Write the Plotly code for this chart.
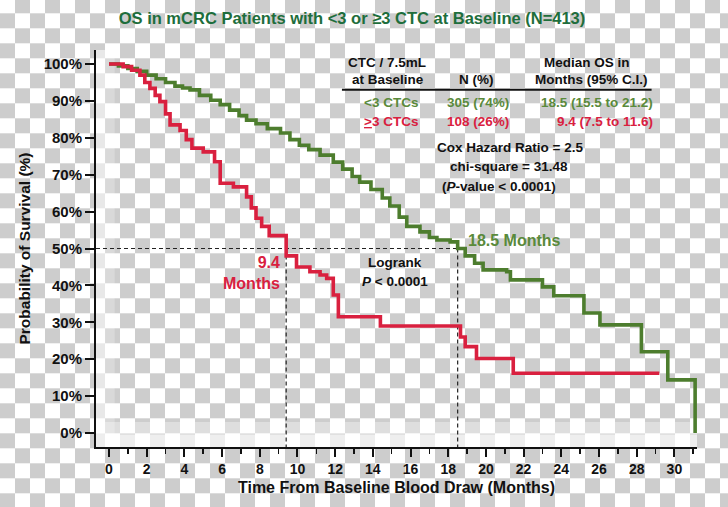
import base64
import plotly.graph_objects as go

# ---------------- data ----------------
green_t = [0, 0.5, 1.0, 1.5, 2.0, 2.5, 3.0, 3.5, 3.9, 4.3, 4.8, 5.4, 5.9, 6.4, 6.9, 7.3,
           7.8, 8.4, 9.1, 9.6, 10.1, 10.6, 11.2, 11.9, 12.4, 12.9, 13.3, 13.9, 14.5, 14.9,
           15.4, 15.8, 16.5, 17.0, 17.4, 18.1, 18.5, 18.9, 19.4, 19.85, 21.1, 21.3, 23.0,
           23.6, 25.2, 26.05, 28.25, 29.65, 31.1]
green_s = [100, 99.5, 98.8, 98, 97, 96, 95, 94, 93.5, 93, 91.5, 90.2, 89, 87.5, 86, 84.8,
           83.8, 82.5, 81.3, 79.5, 78, 76.8, 75.3, 73.4, 71.5, 69.5, 68, 66, 63.7, 61.5,
           58.5, 56, 54.5, 53, 52.3, 51.8, 50, 48, 46, 44.2, 43.7, 41.5, 39.6,
           37.2, 32.5, 29.3, 22, 14.4, 0]

red_t = [0, 0.75, 1.2, 1.64, 1.9, 2.17, 2.45, 2.7, 3.0, 3.24, 3.77, 4.1, 4.4, 5.0, 5.6,
         5.9, 6.6, 7.3, 7.55, 7.8, 8.1, 8.5, 9.4, 9.95, 10.66, 11.2, 11.55, 11.9, 12.17,
         14.4, 18.65, 18.9, 19.5, 21.45, 29.2]
red_s = [100, 99.3, 98.3, 97, 95, 93.4, 91.5, 89.8, 86.5, 83.5, 82, 79.5, 77.2, 76.2, 73.5,
         67.7, 66.7, 64, 61, 58.2, 56, 53.5, 48, 45, 43.7, 42.8, 41.9, 37.4, 31.5,
         29, 26, 23.4, 20.2, 16.2, 16.2]

median_low = 18.5
median_high = 9.4
median_level = 50

x_ticks = list(range(0, 31, 2))
y_ticks = list(range(0, 101, 10))
y_ticktext = [f"{v}%" for v in y_ticks]

# ---------------- style ----------------
W, H = 728, 507
ML, MR, MT, MB = 96, 31, 50, 60
XR = [-0.69, 31.2]
YR = [-3.8, 103.8]

GREEN = "#4d7d2e"
GREEN_TXT = "#5a8a3b"
TITLE_GREEN = "#1e6e3c"
RED = "#d9203f"
FONT = "Liberation Sans, Arial, sans-serif"

# checkerboard background (transparent-PNG look)
svg = (
    f'<svg xmlns="http://www.w3.org/2000/svg" width="{W}" height="{H}">'
    '<defs><pattern id="c" width="30" height="30" patternUnits="userSpaceOnUse" '
    'patternTransform="translate(0,-1.7)">'
    '<rect width="30" height="30" fill="#ffffff"/>'
    '<rect x="15" y="0" width="15" height="15" fill="#cdcdcd"/>'
    '<rect x="0" y="15" width="15" height="15" fill="#cdcdcd"/>'
    '</pattern></defs>'
    f'<rect width="{W}" height="{H}" fill="url(#c)"/></svg>'
)
svg_uri = "data:image/svg+xml;base64," + base64.b64encode(svg.encode()).decode()
PW = W - ML - MR
PH = H - MT - MB

fig = go.Figure()

dash = dict(color="#222222", width=1.2, dash="4px,3px")
fig.add_trace(go.Scatter(x=[XR[0], median_low], y=[median_level, median_level],
                         mode="lines", line=dash, hoverinfo="skip"))
fig.add_trace(go.Scatter(x=[median_high, median_high], y=[median_level, YR[0]],
                         mode="lines", line=dash, hoverinfo="skip"))
fig.add_trace(go.Scatter(x=[median_low, median_low], y=[median_level, YR[0]],
                         mode="lines", line=dash, hoverinfo="skip"))

fig.add_trace(go.Scatter(x=green_t, y=green_s, mode="lines", line_shape="hv",
                         line=dict(color=GREEN, width=3.6), name="<3 CTCs"))
fig.add_trace(go.Scatter(x=red_t, y=red_s, mode="lines", line_shape="hv",
                         line=dict(color=RED, width=3.6), name=">=3 CTCs"))


def ann(text, x, y, color="#111111", size=13.5, xanchor="center", align="center"):
    return dict(text=text, x=x, y=y, xref="x", yref="y", showarrow=False,
                xanchor=xanchor, yanchor="middle", align=align,
                font=dict(family=FONT, size=size, color=color, weight="bold"))


annotations = [
    ann("CTC / 7.5mL", 14.75, 100.5),
    ann("at Baseline", 14.8, 95.7),
    ann("N (%)", 19.52, 95.7),
    ann("Median OS in", 25.38, 100.5),
    ann("Months (95% C.I.)", 25.6, 95.7),
    ann("&lt;3 CTCs", 16.5, 89.6, GREEN_TXT, xanchor="right"),
    ann("305 (74%)", 19.58, 89.6, GREEN_TXT),
    ann("18.5 (15.5 to 21.2)", 28.97, 89.6, GREEN_TXT, xanchor="right"),
    ann("<u>&gt;</u>3 CTCs", 16.5, 84.4, RED, xanchor="right"),
    ann("108 (26%)", 19.6, 84.4, RED),
    ann("9.4 (7.5 to 11.6)", 28.97, 84.4, RED, xanchor="right"),
    ann("Cox Hazard Ratio = 2.5", 21.27, 77.4),
    ann("chi-square = 31.48", 21.22, 72.2),
    ann("(<i>P</i>-value &lt; 0.0001)", 20.7, 66.8),
    ann("Logrank", 15.17, 46.1),
    ann("<i>P</i> &lt; 0.0001", 15.17, 41.0),
    ann("9.4<br>Months", 9.18, 43.4, RED, size=16, xanchor="right", align="right"),
    ann("18.5 Months", 18.94, 52.3, GREEN_TXT, size=16, xanchor="left"),
]

shapes = [
    # table rule
    dict(type="line", xref="x", yref="y", x0=12.36, x1=28.79, y0=93.0, y1=93.0,
         line=dict(color="#111111", width=2)),
    # faint white wash along bottom / left edge of plotting area
    dict(type="rect", xref="x", yref="y", x0=XR[0], x1=XR[1], y0=YR[0], y1=-0.5,
         fillcolor="rgba(255,255,255,0.65)", line_width=0, layer="below"),
    dict(type="rect", xref="x", yref="y", x0=XR[0], x1=XR[1], y0=-0.5, y1=3.0,
         fillcolor="rgba(255,255,255,0.35)", line_width=0, layer="below"),
    dict(type="rect", xref="x", yref="y", x0=XR[0], x1=-0.2, y0=-0.5, y1=YR[1],
         fillcolor="rgba(255,255,255,0.55)", line_width=0, layer="below"),
    dict(type="rect", xref="x", yref="y", x0=-0.2, x1=0.3, y0=-0.5, y1=YR[1],
         fillcolor="rgba(255,255,255,0.25)", line_width=0, layer="below"),
]

fig.update_layout(
    width=W, height=H,
    margin=dict(l=ML, r=MR, t=MT, b=MB, autoexpand=False),
    paper_bgcolor="#ffffff",
    plot_bgcolor="rgba(0,0,0,0)",
    showlegend=False,
    hovermode=False,
    title=dict(text="OS in mCRC Patients with &lt;3 or ≥3 CTC at Baseline (N=413)",
               x=352 / W, xanchor="center", y=1 - 18 / H, yanchor="middle",
               font=dict(family=FONT, size=16.5, color=TITLE_GREEN, weight="bold")),
    images=[dict(source=svg_uri, xref="paper", yref="paper",
                 x=-ML / PW, y=1 + MT / PH, sizex=W / PW, sizey=H / PH,
                 xanchor="left", yanchor="top", sizing="stretch", layer="below")],
    annotations=annotations,
    shapes=shapes,
    xaxis=dict(range=XR, tickvals=x_ticks, showgrid=False, zeroline=False,
               showline=True, linecolor="#111111", linewidth=2,
               ticks="outside", ticklen=8, tickwidth=2, tickcolor="#111111",
               minor=dict(dtick=1, ticks="outside", ticklen=5, tickwidth=1.5,
                          tickcolor="#111111", showgrid=False),
               tickfont=dict(family=FONT, size=14, color="#111111", weight="bold"),
               title=dict(text="Time From Baseline Blood Draw (Months)", standoff=6,
                          font=dict(family=FONT, size=16, color="#111111", weight="bold"))),
    yaxis=dict(range=YR, tickvals=y_ticks, ticktext=y_ticktext, showgrid=False,
               zeroline=False, showline=True, linecolor="#111111", linewidth=2,
               ticks="outside", ticklen=9, tickwidth=2, tickcolor="#111111",
               tickfont=dict(family=FONT, size=15, color="#111111", weight="bold"),
               title=dict(text="Probability of Survival (%)", standoff=9,
                          font=dict(family=FONT, size=15.5, color="#111111", weight="bold"))),
)

fig.write_html("out.html",
               config={"displayModeBar": False, "staticPlot": True},
               post_script="document.body.style.margin='0';document.body.style.padding='0';")
